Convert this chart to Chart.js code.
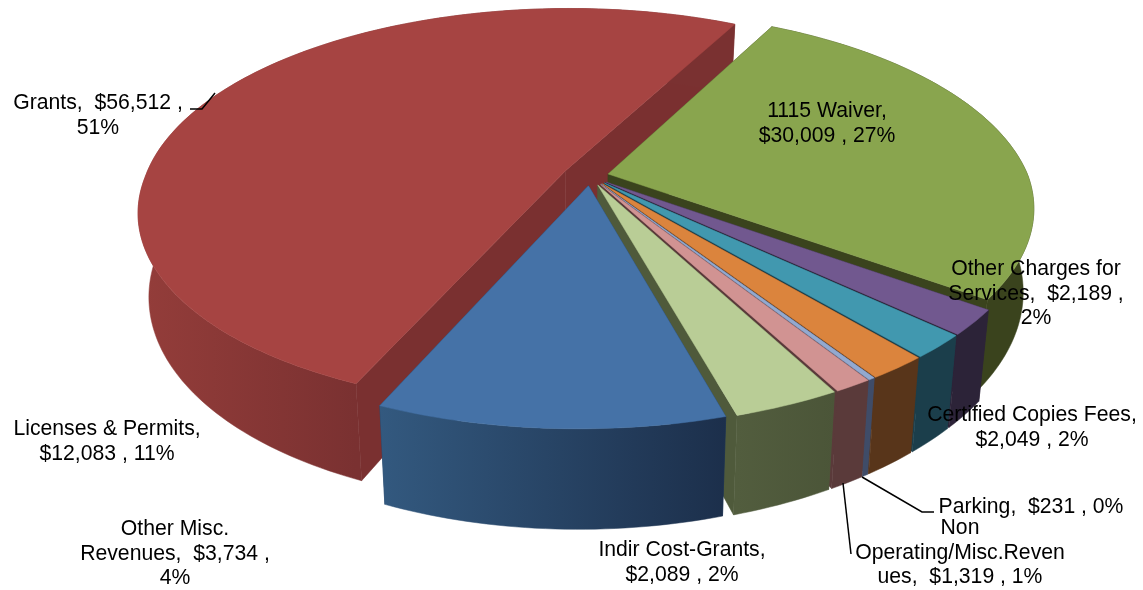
<!DOCTYPE html>
<html>
<head>
<meta charset="utf-8">
<title>Revenue by source</title>
<script src="https://cdn.jsdelivr.net/npm/chart.js@4"></script>
<style>
  html, body { margin: 0; padding: 0; background: #fff; }
  canvas { display: block; }
</style>
</head>
<body>
<canvas id="grafico" width="1143" height="590"></canvas>
<script>
// valores
const categorias = ['1115 Waiver', 'Other Charges for Services', 'Certified Copies Fees', 'Indir Cost-Grants',
    'Parking', 'Non Operating/Misc.Revenues', 'Other Misc. Revenues', 'Licenses & Permits', 'Grants'];
const valores = [30009, 2189, 2049, 2089, 231, 1319, 3734, 12083, 56512];
const rotulos = [
    ['1115 Waiver,', '$30,009 , 27%'],
    ['Other Charges for', 'Services,  $2,189 ,', '2%'],
    ['Certified Copies Fees,', '$2,049 , 2%'],
    ['Indir Cost-Grants,', '$2,089 , 2%'],
    ['Parking,  $231 , 0%'],
    ['Non', 'Operating/Misc.Reven', 'ues,  $1,319 , 1%'],
    ['Other Misc.', 'Revenues,  $3,734 ,', '4%'],
    ['Licenses & Permits,', '$12,083 , 11%'],
    ['Grants,  $56,512 ,', '51%']
];

// estilos e posicoes
const corTopo = ['#89a54e', '#71588f', '#4198af', '#db843d', '#93a9cf', '#d19392', '#b9cd96', '#4572a7', '#a64442'];
const corCorte = ['#3a431d', '#2c2338', '#1b3e4b', '#58351a', '#3f4c68', '#5a3a3a', '#4f5a3b', '#1f3a5e', '#7a3030'];
const corLadoEsq = ['#3a431d', '#2c2338', '#1b3e4b', '#58351a', '#3f4c68', '#5a3a3a', '#525d3e', '#33597f', '#943d3a'];
const corLadoDir = ['#3a431d', '#2c2338', '#1b3e4b', '#58351a', '#3f4c68', '#5a3a3a', '#4b5538', '#1c2f4b', '#7a3131'];
const explosao = [12, 13.5, 13.5, 13.5, 13.5, 13.5, 13.5, 13.5, 17.5];
const posRotulos = [[827, 111], [1036, 269], [1032, 415], [682, 550], [1031, 507], [960, 528], [175, 529], [107, 429], [98, 103]];
const guias = [
    [[190, 109], [202, 109], [215, 93]],
    [[862, 477], [922, 512], [934, 512]],
    [[843, 483], [851, 554]]
];

const CX = 590, CY = 176, EIXO_X = 420, EIXO_Y = 194, PERSP = 0.185, ALTURA = 81, FUGA = 0.976, DESVIO = 8;

function projetar(u, v, embaixo) {
    const s = 1 / (1 - PERSP * v);
    const x = EIXO_X * u * s - DESVIO * Math.max(0, v * s);
    const y = EIXO_Y * v * s;
    if (embaixo) return [CX + x * FUGA, CY + y + ALTURA * s];
    return [CX + x, CY + y];
}

function poligono(ctx, pontos, cor) {
    ctx.beginPath();
    pontos.forEach((p, i) => i ? ctx.lineTo(p[0], p[1]) : ctx.moveTo(p[0], p[1]));
    ctx.closePath();
    ctx.fillStyle = cor;
    ctx.fill();
    ctx.strokeStyle = cor;
    ctx.lineWidth = 0.5;
    ctx.stroke();
}

// desenha cada fatia do pie a partir dos angulos calculados pelo Chart.js
function desenharFatia(ctx, arco, i) {
    const r = arco.outerRadius;
    const meio = (arco.startAngle + arco.endAngle) / 2;
    const ox = Math.cos(meio) * arco.options.offset / r;
    const oy = Math.sin(meio) * arco.options.offset / r;
    const passos = Math.max(2, Math.ceil((arco.endAngle - arco.startAngle) / 0.02));

    const cima = [], baixo = [], frente = [];
    for (let k = 0; k <= passos; k++) {
        const a = arco.startAngle + (arco.endAngle - arco.startAngle) * k / passos;
        const u = Math.cos(a) + ox;
        const v = Math.sin(a) + oy;
        cima.push(projetar(u, v, false));
        baixo.push(projetar(u, v, true));
        if (Math.sin(a) >= 0) frente.push(cima[k][0]);
    }
    const apiceC = projetar(ox, oy, false);
    const apiceB = projetar(ox, oy, true);

    // faces do corte
    poligono(ctx, [apiceC, cima[0], baixo[0], apiceB], corCorte[i]);
    poligono(ctx, [apiceC, cima[passos], baixo[passos], apiceB], corCorte[i]);

    // lateral
    const xs = frente.length ? frente : cima.map(p => p[0]);
    const grad = ctx.createLinearGradient(Math.min(...xs), 0, Math.max(...xs), 0);
    grad.addColorStop(0, corLadoEsq[i]);
    grad.addColorStop(1, corLadoDir[i]);
    poligono(ctx, cima.concat(baixo.slice().reverse()), grad);

    // topo
    poligono(ctx, [apiceC].concat(cima), corTopo[i]);
}

const pizza3d = {
    id: 'pizza3d',
    beforeDatasetsDraw(chart) {
        const ctx = chart.ctx;
        const arcos = chart.getDatasetMeta(0).data;
        // ordem: do fundo para a frente
        const ordem = [8, 0, 1, 2, 3, 4, 5, 6, 7];
        ctx.save();
        ordem.forEach(i => desenharFatia(ctx, arcos[i], i));
        ctx.restore();
        return false;
    },
    afterDraw(chart) {
        const ctx = chart.ctx;
        ctx.save();
        ctx.strokeStyle = '#000';
        ctx.lineWidth = 1.5;
        guias.forEach(g => {
            ctx.beginPath();
            g.forEach((p, i) => i ? ctx.lineTo(p[0], p[1]) : ctx.moveTo(p[0], p[1]));
            ctx.stroke();
        });
        ctx.fillStyle = '#000';
        ctx.font = '21.2px "Liberation Sans", Arial, sans-serif';
        ctx.textAlign = 'center';
        ctx.textBaseline = 'middle';
        rotulos.forEach((linhas, i) => {
            linhas.forEach((txt, j) => {
                ctx.fillText(txt, posRotulos[i][0], posRotulos[i][1] + j * 24.8);
            });
        });
        ctx.restore();
    }
};

new Chart(document.getElementById('grafico').getContext('2d'), {
    type: 'pie',
    data: {
        labels: categorias,
        datasets: [{
            data: valores,
            backgroundColor: corTopo,
            borderWidth: 0,
            offset: explosao
        }]
    },
    options: {
        responsive: false,
        animation: false,
        rotation: 27.5,
        radius: 270,
        plugins: {
            legend: { display: false },
            tooltip: { enabled: false }
        }
    },
    plugins: [pizza3d]
});
</script>
</body>
</html>
